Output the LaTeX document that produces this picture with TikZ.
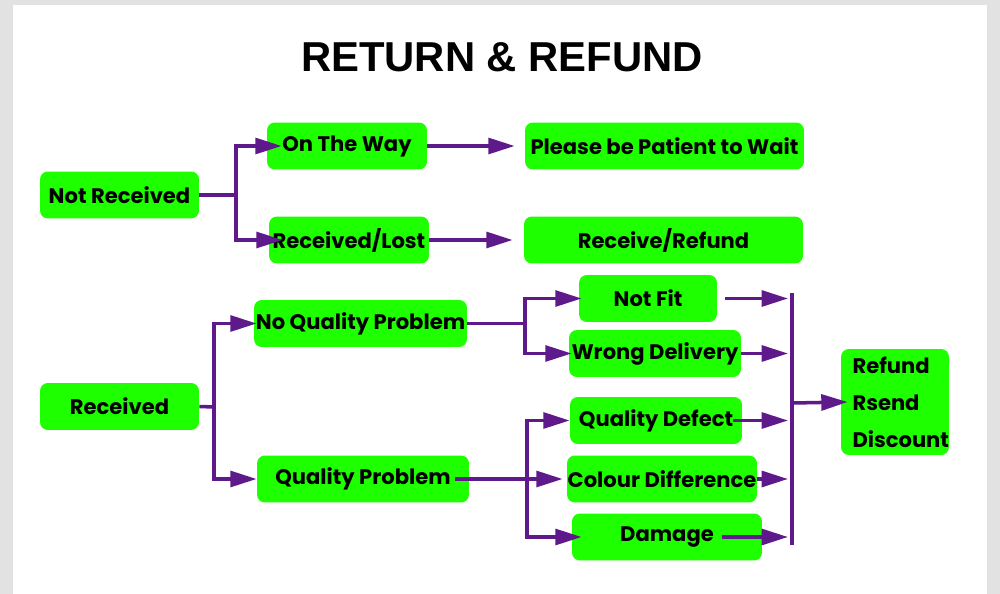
\documentclass[tikz,border=0pt]{standalone}
\usepackage{fontspec}
\setmainfont{Poppins}
\newfontfamily\titlefont{Liberation Sans}
\usetikzlibrary{arrows.meta}
\definecolor{grn}{RGB}{30,255,0}
\definecolor{prp}{RGB}{94,26,138}
\definecolor{bg}{RGB}{226,226,226}

\begin{document}
\begin{tikzpicture}[x=0.02cm,y=-0.02cm,
  box/.style={fill=grn,rounded corners=4.5pt,inner sep=0pt,minimum height=0.94cm,
    minimum width=#1,font=\bfseries\fontsize{12}{14}\selectfont},
  box/.default=3.2cm,
  con/.style={prp,line width=2pt},
  arr/.style={con,-{Triangle[length=15pt,width=9pt]}}]

\fill[bg] (0,0) rectangle (1000,594);
\fill[white] (13,5) rectangle (987,594);

\node[anchor=base,font=\titlefont\bfseries\fontsize{23.8}{28}\selectfont] (title) at (502,72) {RETURN \& REFUND};

\node[box=3.18cm] (nr) at (119.5,195) {Not Received};
\node[box] (otw) at (347,146) {On The Way};
\node[box] (rl) at (349,240) {Received/Lost};
\node[box=5.58cm] (wait) at (664.5,146) {Please be Patient to Wait};
\node[box=5.58cm] (rr) at (663.5,240) {Receive/Refund};

\node[box=3.18cm] (rcv) at (119.5,406.5) {Received};
\node[box=4.26cm] (nqp) at (360.5,323.5) {No Quality Problem};
\node[box=4.24cm] (qp) at (363,479) {Quality Problem};
\node[box=2.76cm] (nf) at (648,298.5) {Not Fit};
\node[box=3.44cm] (wd) at (655,353.5) {Wrong Delivery};
\node[box=3.44cm] (qd) at (656,420.5) {Quality Defect};
\node[box=3.8cm] (cd) at (662,479) {Colour Difference};
\node[box=3.8cm] (dm) at (667,537) {Damage};
\node[box=2.16cm,minimum height=2.12cm,align=left,text width=1.7cm,font=\bfseries\fontsize{12}{21}\selectfont] (res) at (895,402) {Refund\\Rsend\\Discount};

\coordinate (f1) at (236,195);
\draw[con] (nr.east) -- (f1);
\draw[arr] (f1) |- ([xshift=0.3cm]otw.west);
\draw[arr] (f1) |- ([xshift=0.28cm]rl.west);
\draw[arr] (otw.east) -- ([xshift=-0.2cm]wait.west);
\draw[arr] (rl.east) -- ([xshift=-0.22cm]rr.west);

\coordinate (f2) at (214,407);
\draw[con] (rcv.east) -- (f2);
\draw[arr] (f2) |- ([xshift=0.06cm]nqp.west);
\draw[arr] (f2) |- (qp.west);

\coordinate (f3) at (525,323.5);
\draw[con] (nqp.east) -- (f3);
\draw[arr] (f3) |- ([xshift=0.06cm]nf.west);
\draw[arr] (f3) |- ([xshift=0.06cm]wd.west);

\coordinate (f4) at (527,479);
\draw[arr] ([xshift=-0.28cm]qp.east) -- ([xshift=-0.08cm]cd.west);
\draw[arr] (f4) |- (qd.west);
\draw[arr] (f4) |- ([xshift=0.2cm]dm.west);

\coordinate (rt) at (792,293);
\coordinate (rb) at (792,545);
\coordinate (rm) at (792,403);
\draw[con] (rt) -- (rb);
\foreach \n/\s in {nf/0.16cm,wd/0cm,qd/-0.18cm,cd/0cm,dm/-0.8cm}
  \draw[arr,shorten >=0.08cm] ([xshift=\s]\n.east) -- (\n.east -| rt);
\draw[arr] (rm) -- ([xshift=0.14cm]res.west);
\end{tikzpicture}
\end{document}
